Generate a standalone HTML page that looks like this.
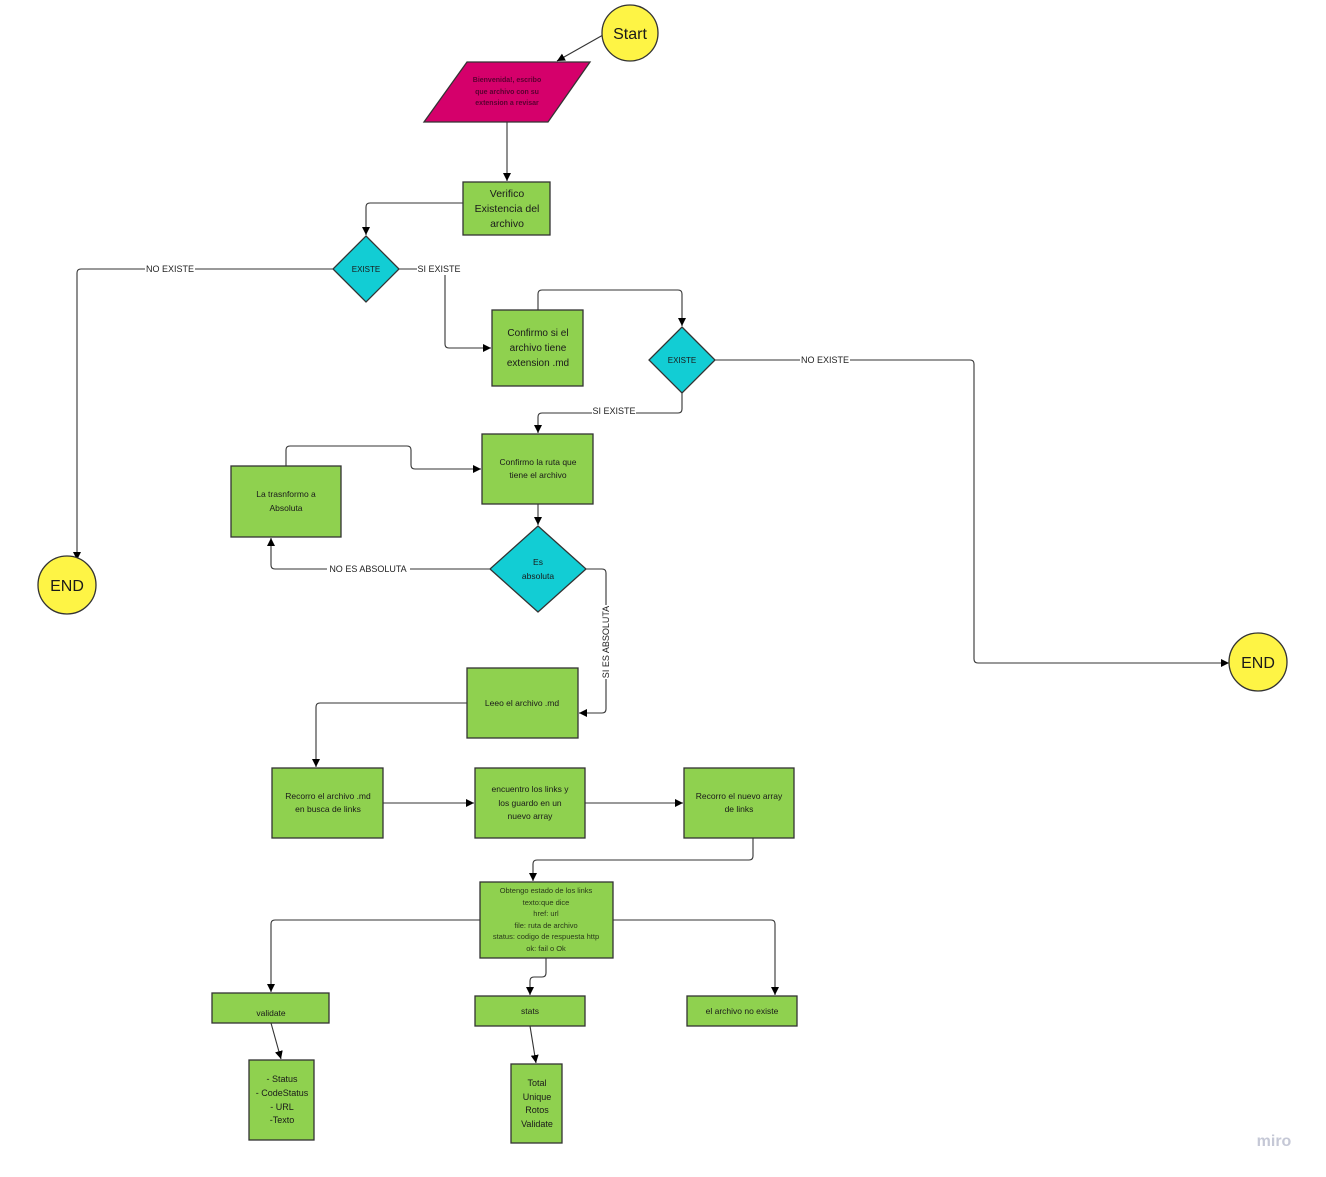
<!DOCTYPE html>
<html><head><meta charset="utf-8"><style>
html,body{margin:0;padding:0;background:#fff;}
svg{display:block;}
text{font-family:"Liberation Sans","DejaVu Sans",sans-serif;}
</style></head><body>
<svg width="1326" height="1177" viewBox="0 0 1326 1177" xmlns="http://www.w3.org/2000/svg">
<defs>
<marker id="a" viewBox="0 0 10 10" refX="10" refY="5" markerWidth="8" markerHeight="8" orient="auto-start-reverse" markerUnits="userSpaceOnUse">
<path d="M0,0 L10,5 L0,10 z" fill="#000"/></marker>
</defs>
<g fill="none" stroke="#333" stroke-width="1.1">
<path d="M603,35 L557,61" marker-end="url(#a)"/>
<path d="M507,122 L507,181" marker-end="url(#a)"/>
<path d="M463,203 L370,203 Q366,203 366,207 L366,235" marker-end="url(#a)"/>
<path d="M333,269 L81,269 Q77,269 77,273 L77,560" marker-end="url(#a)"/>
<path d="M399,269 L441,269 Q445,269 445,273 L445,344 Q445,348 449,348 L491,348" marker-end="url(#a)"/>
<path d="M538,310 L538,294 Q538,290 542,290 L678,290 Q682,290 682,294 L682,326" marker-end="url(#a)"/>
<path d="M715,360 L970,360 Q974,360 974,364 L974,659 Q974,663 978,663 L1229,663" marker-end="url(#a)"/>
<path d="M682,393 L682,409 Q682,413 678,413 L542,413 Q538,413 538,417 L538,433" marker-end="url(#a)"/>
<path d="M286,466 L286,450 Q286,446 290,446 L407,446 Q411,446 411,450 L411,465 Q411,469 415,469 L481,469" marker-end="url(#a)"/>
<path d="M538,504 L538,525" marker-end="url(#a)"/>
<path d="M490,569 L275,569 Q271,569 271,565 L271,538" marker-end="url(#a)"/>
<path d="M586,569 L602,569 Q606,569 606,573 L606,709 Q606,713 602,713 L579,713" marker-end="url(#a)"/>
<path d="M467,703 L320,703 Q316,703 316,707 L316,767" marker-end="url(#a)"/>
<path d="M383,803 L474,803" marker-end="url(#a)"/>
<path d="M585,803 L683,803" marker-end="url(#a)"/>
<path d="M753,838 L753,856 Q753,860 749,860 L537,860 Q533,860 533,864 L533,881" marker-end="url(#a)"/>
<path d="M480,920 L275,920 Q271,920 271,924 L271,992" marker-end="url(#a)"/>
<path d="M613,920 L771,920 Q775,920 775,924 L775,995" marker-end="url(#a)"/>
<path d="M546,958 L546,973 Q546,977 542,977 L534,977 Q530,977 530,981 L530,995" marker-end="url(#a)"/>
<path d="M271,1023 L281,1059" marker-end="url(#a)"/>
<path d="M530,1026 L536,1063" marker-end="url(#a)"/>
</g>
<!-- labels on lines -->
<g font-size="9" fill="#222" text-anchor="middle">
<rect x="145" y="263" width="50" height="12" fill="#fff"/><text x="170" y="272">NO EXISTE</text>
<rect x="417" y="263" width="44" height="12" fill="#fff"/><text x="439" y="272">SI EXISTE</text>
<rect x="800" y="354" width="50" height="12" fill="#fff"/><text x="825" y="363">NO EXISTE</text>
<rect x="592" y="405" width="44" height="12" fill="#fff"/><text x="614" y="414">SI EXISTE</text>
<rect x="327" y="563" width="83" height="12" fill="#fff"/><text x="368" y="572">NO ES ABSOLUTA</text>
<rect x="600" y="605" width="12" height="74" fill="#fff"/>
<text x="0" y="0" transform="translate(609,642) rotate(-90)">SI ES ABSOLUTA</text>
</g>
<!-- shapes -->
<g stroke="#333" stroke-width="1.3">
<circle cx="630" cy="33" r="28" fill="#fef445"/>
<polygon points="424,122 467,62 590,62 548,122" fill="#d5006b"/>
<rect x="463" y="182" width="87" height="53" fill="#8fd14f"/>
<polygon points="366,236 399,269 366,302 333,269" fill="#12cdd4"/>
<circle cx="67" cy="585" r="29" fill="#fef445"/>
<rect x="492" y="310" width="91" height="76" fill="#8fd14f"/>
<polygon points="682,327 715,360 682,393 649,360" fill="#12cdd4"/>
<circle cx="1258" cy="662" r="29" fill="#fef445"/>
<rect x="482" y="434" width="111" height="70" fill="#8fd14f"/>
<rect x="231" y="466" width="110" height="71" fill="#8fd14f"/>
<polygon points="538,526 586,569 538,612 490,569" fill="#12cdd4"/>
<rect x="467" y="668" width="111" height="70" fill="#8fd14f"/>
<rect x="272" y="768" width="111" height="70" fill="#8fd14f"/>
<rect x="475" y="768" width="110" height="70" fill="#8fd14f"/>
<rect x="684" y="768" width="110" height="70" fill="#8fd14f"/>
<rect x="480" y="882" width="133" height="76" fill="#8fd14f"/>
<rect x="212" y="993" width="117" height="30" fill="#8fd14f"/>
<rect x="475" y="996" width="110" height="30" fill="#8fd14f"/>
<rect x="687" y="996" width="110" height="30" fill="#8fd14f"/>
<rect x="249" y="1060" width="65" height="80" fill="#8fd14f"/>
<rect x="511" y="1064" width="51" height="79" fill="#8fd14f"/>
</g>
<g fill="#1a1a1a" text-anchor="middle">
<text x="630" y="39" font-size="16">Start</text>
<g font-size="7" font-weight="bold" fill="#5a0030"><text x="507" y="82">Bienvenida!, escribo</text><text x="507" y="94">que archivo con su</text><text x="507" y="105">extension a revisar</text></g>
<g font-size="10.5"><text x="507" y="197">Verifico</text><text x="507" y="212">Existencia del</text><text x="507" y="227">archivo</text></g>
<text x="366" y="272" font-size="8">EXISTE</text>
<text x="67" y="591" font-size="16">END</text>
<g font-size="10"><text x="538" y="336">Confirmo si el</text><text x="538" y="351">archivo tiene</text><text x="538" y="366">extension .md</text></g>
<text x="682" y="363" font-size="8">EXISTE</text>
<text x="1258" y="668" font-size="16">END</text>
<g font-size="8.5"><text x="538" y="465">Confirmo la ruta que</text><text x="538" y="478">tiene el archivo</text></g>
<g font-size="8.5"><text x="286" y="497">La trasnformo a</text><text x="286" y="511">Absoluta</text></g>
<g font-size="8.5"><text x="538" y="565">Es</text><text x="538" y="579">absoluta</text></g>
<text x="522" y="706" font-size="8.5">Leeo el archivo .md</text>
<g font-size="8.5"><text x="328" y="799">Recorro el archivo .md</text><text x="328" y="812">en busca de links</text></g>
<g font-size="8.5"><text x="530" y="792">encuentro los links y</text><text x="530" y="806">los guardo en un</text><text x="530" y="819">nuevo array</text></g>
<g font-size="8.5"><text x="739" y="799">Recorro el nuevo array</text><text x="739" y="812">de links</text></g>
<g font-size="7.5" fill="#2a3a1a"><text x="546" y="893">Obtengo estado de los links</text><text x="546" y="905">texto:que dice</text><text x="546" y="916">href: url</text><text x="546" y="928">file: ruta de archivo</text><text x="546" y="939">status: codigo de respuesta http</text><text x="546" y="951">ok: fail o Ok</text></g>
<text x="271" y="1016" font-size="8.5">validate</text>
<text x="530" y="1014" font-size="8.5">stats</text>
<text x="742" y="1014" font-size="8.5">el archivo no existe</text>
<g font-size="9"><text x="282" y="1082">- Status</text><text x="282" y="1096">- CodeStatus</text><text x="282" y="1110">- URL</text><text x="282" y="1123">-Texto</text></g>
<g font-size="9"><text x="537" y="1086">Total</text><text x="537" y="1100">Unique</text><text x="537" y="1113">Rotos</text><text x="537" y="1127">Validate</text></g>
</g>
<text x="1274" y="1146" font-size="16" fill="#c5c8d6" text-anchor="middle" font-weight="bold">miro</text>
</svg>
</body></html>
